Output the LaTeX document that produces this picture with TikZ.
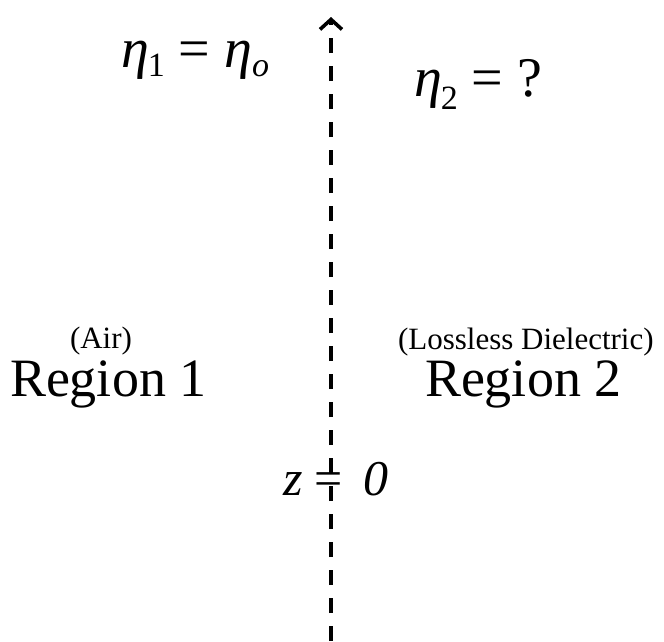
\documentclass[tikz,border=0pt]{standalone}
\usepackage{fontspec}
\setmainfont{Liberation Serif}
\usetikzlibrary{arrows.meta,positioning}

\newcommand{\bigtxt}{\fontsize{54}{60}\selectfont}
\newcommand{\smalltxt}{\fontsize{31}{36}\selectfont}
\newcommand{\etatxt}{\fontsize{56}{60}\selectfont}
\newcommand{\subtxt}[2]{\raisebox{#1}{\fontsize{34}{36}\selectfont #2}}

\begin{document}
\begin{tikzpicture}[x=1pt, y=-1pt, >=Latex]
  \tikzstyle{lbl}=[inner sep=0pt, outer sep=0pt, anchor=base west]
  \tikzstyle{axis}=[line width=4pt, dash pattern=on 15pt off 13pt,
    -{Straight Barb[length=10pt, width=22pt, line width=3.6pt]}]
  \useasboundingbox (0,0) rectangle (664,641);

  % boundary z = 0
  \coordinate (bottom) at (331,641);
  \coordinate (top) at (331,17);
  \draw[axis] (bottom) -- (top);

  % impedances
  \node[lbl] (eta1) at (121,67) {\etatxt\textit{η}\kern-1pt\subtxt{-9pt}{1} = \textit{η}\subtxt{-9pt}{\textit{o}}};
  \node[lbl] (eta2) at (414,96) {\etatxt\textit{η}\kern-1pt\subtxt{-13pt}{2} = ?};

  % regions
  \node[lbl] (air) at (70,348) {\smalltxt(Air)};
  \node[lbl] (reg1) at (10,396) {\bigtxt Region 1};
  \node[lbl] (diel) at (398,349) {\smalltxt(Lossless Dielectric)};
  \node[lbl] (reg2) at (425,396) {\bigtxt Region 2};

  % interface label
  \node[lbl] (zzero) at (283,495) {\fontsize{50}{54}\selectfont\textit{z} = \,\textit{0}};
\end{tikzpicture}
\end{document}
